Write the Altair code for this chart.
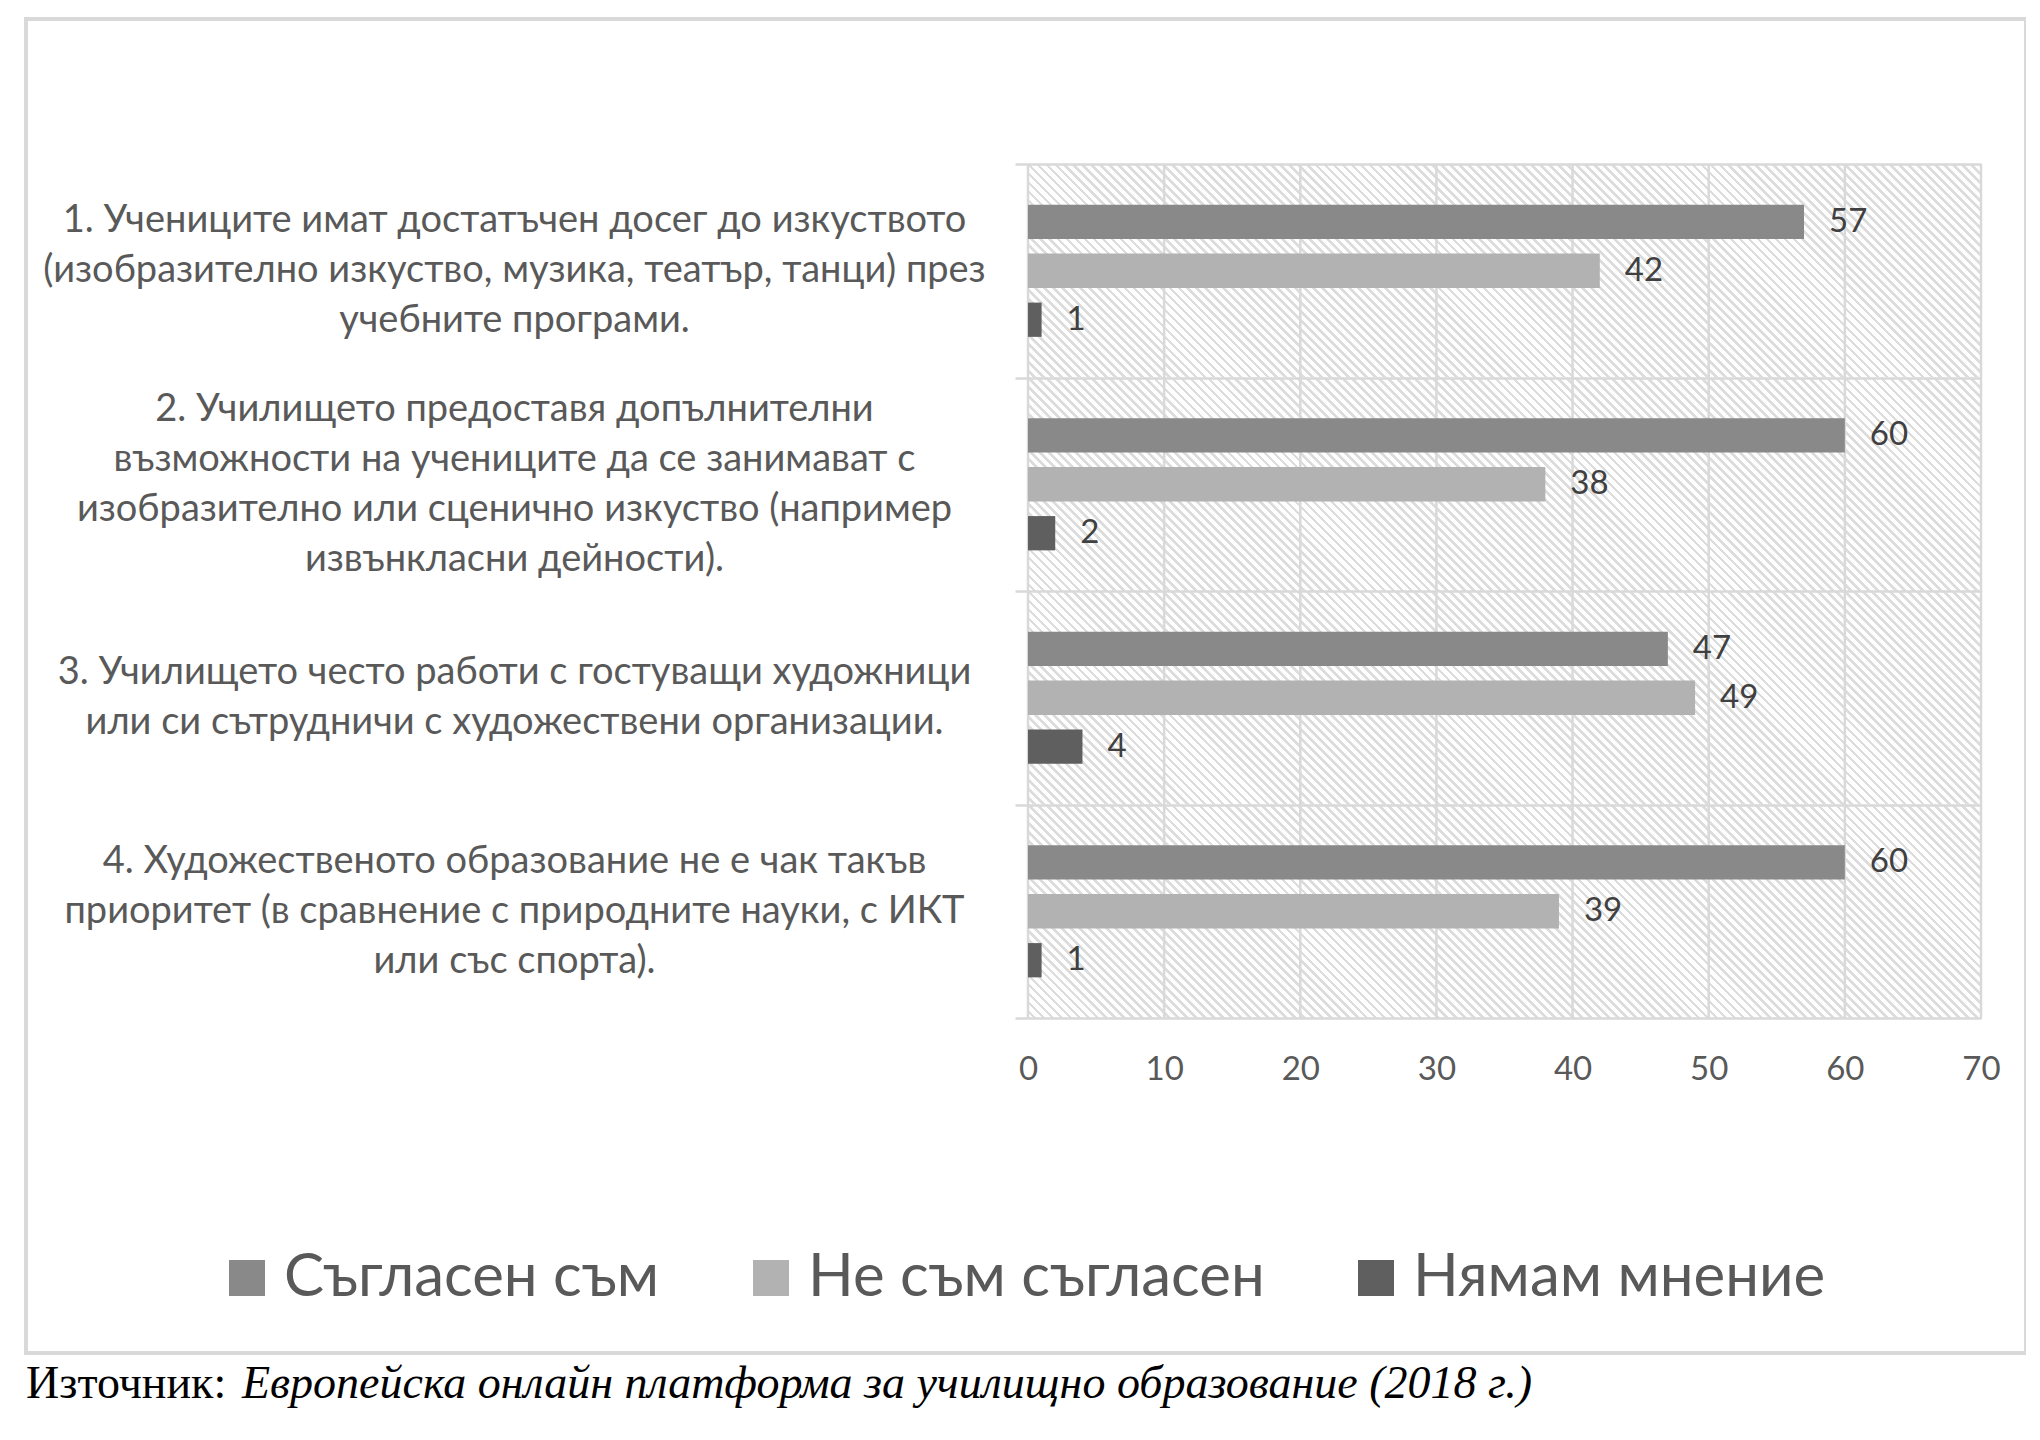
import pandas as pd
import altair as alt

# Survey statements (lines split by "|"), answer series and values in %
questions = [
    "1. Учениците имат достатъчен досег до изкуството|(изобразително изкуство, музика, театър, танци) през|учебните програми.",
    "2. Училището предоставя допълнителни|възможности на учениците да се занимават с|изобразително или сценично изкуство (например|извънкласни дейности).",
    "3. Училището често работи с гостуващи художници|или си сътрудничи с художествени организации.",
    "4. Художественото образование не е чак такъв|приоритет (в сравнение с природните науки, с ИКТ|или със спорта).",
]
series = ["Съгласен съм", "Не съм съгласен", "Нямам мнение"]
agree = [57, 60, 47, 60]
disagree = [42, 38, 49, 39]
no_opinion = [1, 2, 4, 1]
x_ticks = [0, 10, 20, 30, 40, 50, 60, 70]

colors = ["#898989", "#b2b2b2", "#5f5f5f"]
source_label = "Източник:"
source_text = "Европейска онлайн платформа за училищно образование (2018 г.)"

W, H = 953, 854
FONT = "Lato"
TEXT_COLOR = "#595959"
GRID = "#d9d9d9"
LINE_H = 50

rows = []
for i, q in enumerate(questions):
    for s, vals in zip(series, [agree, disagree, no_opinion]):
        rows.append({"question": q, "series": s, "value": vals[i]})
df = pd.DataFrame(rows)
df_q = pd.DataFrame({"question": questions, "start": x_ticks[0], "end": x_ticks[-1]})
df_ticks = pd.DataFrame({"tick": x_ticks})


def hatch_gradient(width, height, period=9, frac=0.58, bg="#ffffff", line="#dddddd"):
    """Diagonal stripes (top-left to bottom-right) faked with a hard-stop gradient."""
    r = height / width
    dx = (1 + r) / (1 + r * r)
    dy = -r * dx
    n = round((width + height) / period)
    stops = []
    for k in range(n):
        a, b, c = k / n, (k + frac) / n, (k + 1) / n
        stops += [
            alt.GradientStop(color=bg, offset=round(a, 6)),
            alt.GradientStop(color=bg, offset=round(b, 6)),
            alt.GradientStop(color=line, offset=round(b, 6)),
            alt.GradientStop(color=line, offset=round(c, 6)),
        ]
    return alt.LinearGradient(gradient="linear", stops=stops, x1=0, y1=1, x2=dx, y2=1 + dy)


# shift multi-line labels up so each block is centred on its band
n_lines = "length(split(datum.value, '|'))"
label_offset = {
    "condition": [
        {"test": f"{n_lines} == {n}", "value": -(n - 1) * LINE_H / 2} for n in (2, 3, 4)
    ],
    "value": 0,
}

x_scale = alt.Scale(domain=[0, 70], nice=False, zero=True)
y_scale = alt.Scale(paddingInner=0, paddingOuter=0)
off_scale = alt.Scale(domain=series, paddingInner=0.3, paddingOuter=0.83)

x_axis = alt.Axis(
    values=x_ticks, title=None, grid=False, ticks=False, domain=False, labelFlush=False,
    labelFont=FONT, labelFontSize=33, labelColor=TEXT_COLOR, labelPadding=35,
)
y_axis = alt.Axis(
    title=None, domain=False, grid=True, gridColor=GRID, gridWidth=2.5,
    tickBand="extent", tickSize=13, tickColor=GRID, tickWidth=2.5,
    labelExpr="split(datum.label, '|')", labelAlign="center",
    labelBaseline="middle", labelPadding=501, labelLimit=0, labelOffset=label_offset,
    labelLineHeight=LINE_H, labelFont=FONT, labelFontSize=38,
    labelColor=TEXT_COLOR, zindex=1,
)

background = (
    alt.Chart(df_q)
    .mark_rect(fill=hatch_gradient(W, H / len(questions)))
    .encode(
        y=alt.Y("question:N", sort=questions, scale=y_scale, axis=y_axis),
        x=alt.X("start:Q", scale=x_scale, axis=x_axis),
        x2="end:Q",
    )
)

grid = (
    alt.Chart(df_ticks)
    .mark_rule(color=GRID, strokeWidth=2.5)
    .encode(x=alt.X("tick:Q", scale=x_scale, axis=x_axis))
)

bars = (
    alt.Chart(df)
    .mark_bar()
    .encode(
        x=alt.X("value:Q", scale=x_scale, axis=x_axis),
        y=alt.Y("question:N", sort=questions, scale=y_scale, axis=y_axis),
        yOffset=alt.YOffset("series:N", sort=series, scale=off_scale),
        color=alt.Color(
            "series:N",
            sort=series,
            scale=alt.Scale(domain=series, range=colors),
            legend=alt.Legend(
                title=None, orient="none", direction="horizontal", legendX=-811, legendY=1084,
                symbolType="square", symbolSize=1296, symbolStrokeWidth=0,
                labelFont=FONT, labelFontSize=60, labelColor=TEXT_COLOR, labelLimit=0,
                labelOffset=7, columnPadding=81, padding=0,
            ),
        ),
    )
)

labels = (
    alt.Chart(df)
    .mark_text(align="left", baseline="middle", dx=25, font=FONT, fontSize=33, color="#404040")
    .encode(
        x=alt.X("value:Q", scale=x_scale, axis=x_axis),
        y=alt.Y("question:N", sort=questions, scale=y_scale, axis=y_axis),
        yOffset=alt.YOffset("series:N", sort=series, scale=off_scale),
        text="value:Q",
    )
)

frame = (
    alt.Chart(pd.DataFrame({"k": [0]}))
    .mark_rect(filled=False, stroke=GRID, strokeWidth=4)
    .encode(x=alt.value(-1002), x2=alt.value(998), y=alt.value(-145), y2=alt.value(1189))
)

src1 = (
    alt.Chart(pd.DataFrame({"t": [source_label]}))
    .mark_text(align="left", baseline="alphabetic", font="Liberation Serif", fontSize=46, color="#000000")
    .encode(text="t:N", x=alt.value(-1002), y=alt.value(1234))
)
src2 = (
    alt.Chart(pd.DataFrame({"t": [source_text]}))
    .mark_text(align="left", baseline="alphabetic", font="Liberation Serif", fontSize=46,
               fontStyle="italic", color="#000000")
    .encode(text="t:N", x=alt.value(-786), y=alt.value(1234))
)

chart = (
    alt.layer(background, grid, bars, labels, frame, src1, src2)
    .properties(
        width=W,
        height=H,
        autosize=alt.AutoSizeParams(type="none"),
        padding={"left": 1020, "top": 156, "right": 45, "bottom": 400},
    )
    .configure_view(strokeWidth=0)
    .configure(background="white")
)

chart.save("out.html", embed_options={"renderer": "svg", "actions": False})
